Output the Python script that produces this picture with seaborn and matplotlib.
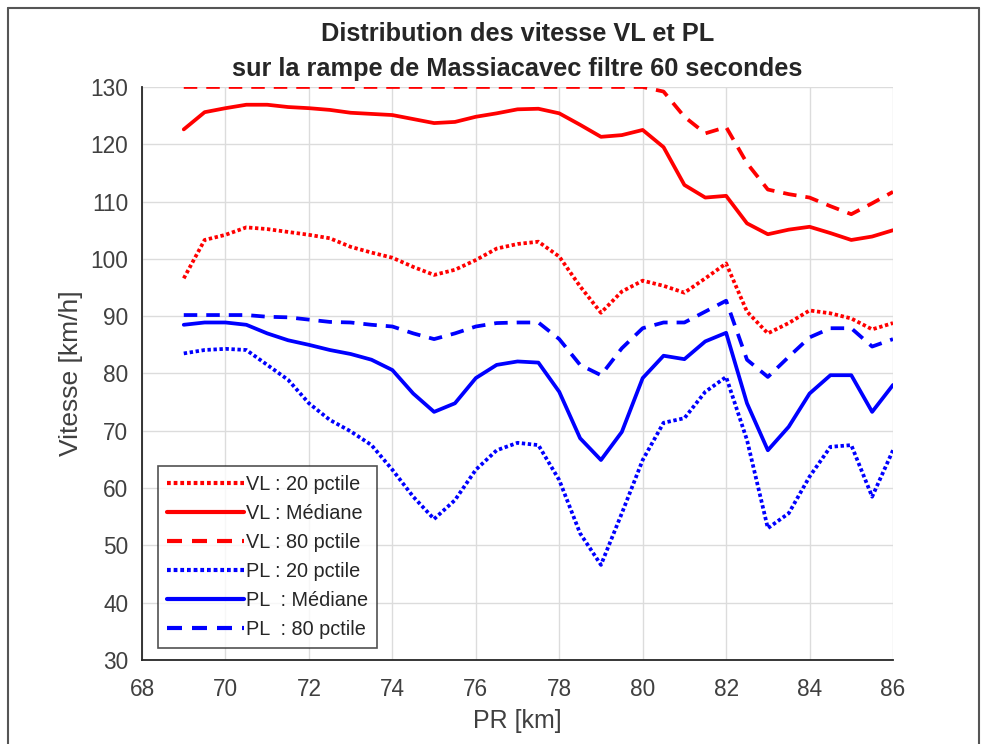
import numpy as np
import pandas as pd
import matplotlib
matplotlib.use('Agg')
import matplotlib.pyplot as plt
from matplotlib.lines import Line2D
import seaborn as sns

# PR positions (km)
pr = np.arange(69, 86.01, 0.5)

# VL speeds
vl_p20 = [96.6, 103.3, 104.2, 105.5, 105.2, 104.7, 104.2, 103.6, 102.1, 101.1, 100.2, 98.6,
          97.2, 98.1, 99.8, 101.8, 102.6, 103.0, 100.4, 95.2, 90.6, 94.3, 96.2, 95.3,
          94.1, 96.6, 99.2, 90.8, 87.0, 88.8, 91.0, 90.5, 89.6, 87.7, 88.8]
vl_med = [122.6, 125.6, 126.3, 126.9, 126.9, 126.5, 126.3, 126.0, 125.5, 125.3, 125.1, 124.4,
          123.7, 123.9, 124.8, 125.4, 126.1, 126.2, 125.4, 123.4, 121.3, 121.6, 122.5, 119.5,
          112.9, 110.7, 111.0, 106.2, 104.3, 105.1, 105.6, 104.5, 103.3, 103.9, 105.0]
vl_p80 = [130.0, 130.0, 130.0, 130.0, 130.0, 130.0, 130.0, 130.0, 130.0, 130.0, 130.0, 130.0,
          130.0, 130.0, 130.0, 130.0, 130.0, 130.0, 130.0, 130.0, 130.0, 130.0, 130.0, 129.2,
          124.8, 121.9, 123.0, 116.7, 112.1, 111.3, 110.7, 109.2, 107.8, 109.7, 111.7]

# PL speeds
pl_p20 = [83.5, 84.1, 84.3, 84.1, 81.5, 78.9, 74.8, 71.9, 69.9, 67.5, 63.2, 58.5,
          54.6, 57.9, 63.2, 66.6, 67.9, 67.5, 61.4, 52.1, 46.6, 55.6, 64.9, 71.4,
          72.2, 76.8, 79.4, 68.4, 53.0, 55.6, 62.0, 67.2, 67.5, 58.5, 66.6]
pl_med = [88.5, 88.9, 88.9, 88.5, 87.0, 85.8, 85.0, 84.1, 83.4, 82.4, 80.6, 76.5,
          73.3, 74.8, 79.2, 81.5, 82.1, 81.9, 76.8, 68.7, 64.9, 69.8, 79.2, 83.1,
          82.5, 85.6, 87.1, 74.8, 66.6, 70.7, 76.5, 79.7, 79.7, 73.3, 78.0]
pl_p80 = [90.2, 90.2, 90.2, 90.2, 89.9, 89.8, 89.4, 89.0, 88.9, 88.5, 88.2, 87.0,
          86.0, 87.0, 88.2, 88.8, 88.9, 88.9, 86.0, 81.5, 79.7, 84.4, 87.9, 88.9,
          88.9, 90.8, 92.7, 82.4, 79.4, 82.9, 86.3, 87.9, 87.9, 84.7, 86.0]

labels = ['VL : 20 pctile', 'VL : Médiane', 'VL : 80 pctile',
          'PL : 20 pctile', 'PL  : Médiane', 'PL  : 80 pctile']
series = [vl_p20, vl_med, vl_p80, pl_p20, pl_med, pl_p80]
colors = ['red', 'red', 'red', 'blue', 'blue', 'blue']
dotted = (0, (0.9, 0.7))
dashed = (0, (3.6, 2.4))
styles = [dotted, '-', dashed, dotted, '-', dashed]

df = pd.DataFrame({'PR': pr})
for lab, vals in zip(labels, series):
    df[lab] = vals

sns.set_style('white')
plt.rcParams['font.family'] = ['Liberation Sans', 'DejaVu Sans']

fig = plt.figure(figsize=(9.81, 7.44), dpi=100)
ax = fig.add_axes([0.1448, 0.1129, 0.7655, 0.7702])

for lab, c, ls in zip(labels, colors, styles):
    sns.lineplot(data=df, x='PR', y=lab, color=c, linewidth=2.7, ax=ax, label=lab)
    ax.lines[-1].set_linestyle(ls)

ax.set_xlim(68, 86)
ax.set_ylim(30, 130)
ax.set_xticks(np.arange(68, 87, 2))
ax.set_yticks(np.arange(30, 131, 10))
ax.grid(True, color='#dcdcdc', linewidth=1)
ax.set_axisbelow(True)
for s in ['top', 'right']:
    ax.spines[s].set_visible(False)
for s in ['left', 'bottom']:
    ax.spines[s].set_color('#262626')
    ax.spines[s].set_linewidth(1.3)
ax.tick_params(direction='in', length=5, width=1.2, colors='#262626',
               labelcolor='#404040', labelsize=16.3)
ax.tick_params(axis='x', pad=13)
ax.tick_params(axis='y', pad=10)

ax.set_xlabel('PR [km]', fontsize=18, color='#404040', labelpad=6)
ax.set_ylabel('Vitesse [km/h]', fontsize=19, color='#404040', labelpad=5)
ax.set_title('Distribution des vitesse VL et PL\nsur la rampe de Massiacavec filtre 60 secondes',
             fontsize=18.3, fontweight='bold', linespacing=1.55, pad=8)

handles = [Line2D([0], [0], color=c, lw=3.0, linestyle=ls) for c, ls in zip(colors, styles)]
leg = ax.legend(handles, labels, loc='lower left', bbox_to_anchor=(0.021, 0.021),
                fontsize=14.3, frameon=True, fancybox=False, edgecolor='#262626',
                handlelength=3.9, handletextpad=0.1, labelspacing=0.5,
                borderpad=0.45, borderaxespad=0)
leg.get_frame().set_linewidth(1.2)

# figure window border
fig.add_artist(Line2D([0.008, 0.008], [0, 0.989], color='#555555', lw=1.5, transform=fig.transFigure))
fig.add_artist(Line2D([0.008, 0.998], [0.989, 0.989], color='#555555', lw=1.5, transform=fig.transFigure))
fig.add_artist(Line2D([0.998, 0.998], [0, 0.989], color='#555555', lw=1.5, transform=fig.transFigure))

plt.savefig('out.png', dpi=100)
